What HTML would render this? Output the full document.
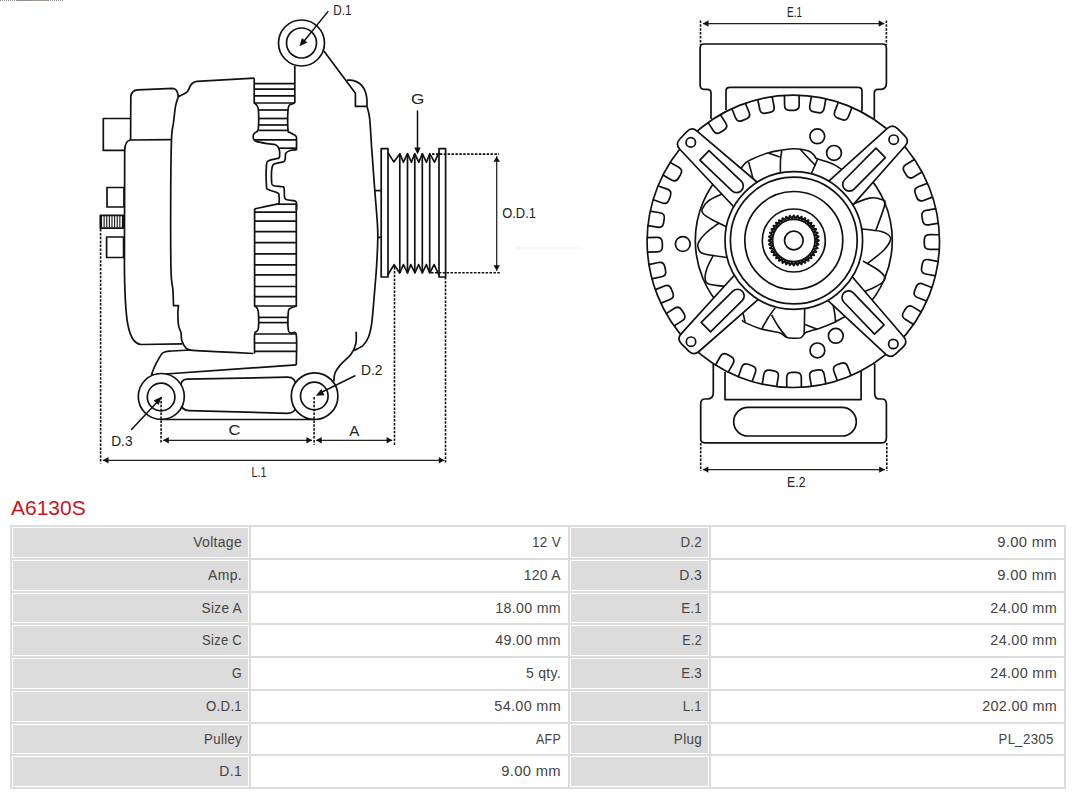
<!DOCTYPE html>
<html><head><meta charset="utf-8"><style>
html,body{margin:0;padding:0;background:#fff;width:1080px;height:795px;overflow:hidden;position:relative}
svg{position:absolute;left:0;top:0}
.b{position:absolute;background:#dcdcdc}
.g{position:absolute;background:#dcdcdc}
.t{position:absolute;text-align:right;font-family:"Liberation Sans",sans-serif;font-size:14px;color:#444;letter-spacing:0.3px;white-space:nowrap}
.title{position:absolute;left:11px;top:494.5px;font-family:"Liberation Sans",sans-serif;font-size:21px;color:#c8161e;line-height:26px}
.topline{position:absolute;left:0;top:0;width:64px;height:1px;background:repeating-linear-gradient(90deg,#8a8a8a 0 1px,#fff 1px 2px)}
.topmid{position:absolute;left:16px;top:0;width:32px;height:1px;background:linear-gradient(90deg,#9a9088,#8a8a94,#a89a88,#9a9aa0)}
</style></head><body>
<div class="topline"></div><div class="topmid"></div>
<svg width="1080" height="495" viewBox="0 0 1080 495">
<g fill="none" stroke="#111" stroke-width="1.7" stroke-linejoin="round" stroke-linecap="butt">
<circle cx="301.5" cy="43" r="23" fill="#fff"/>
<circle cx="301.5" cy="43" r="15" />
<line x1="328.3" y1="11.1" x2="302.5" y2="43" stroke-width="1.5"/>
<path d="M299.5,46.3 L301.9,37.9 L307.3,42.4 Z" fill="#111" stroke="none"/>
<line x1="294.8" y1="65.8" x2="294.8" y2="103" />
<path d="M323.9,51.1 L355.4,93.3 L355.4,106.4 L367,106.4" />
<path d="M346.9,80.2 L350,80.2 Q365.5,81.5 367,100 L367,106.4" />
<path d="M367.00,106.40 C367.43,108.35 368.82,111.12 369.60,118.10 C370.38,125.08 370.83,136.22 371.70,148.30 C372.57,160.38 373.88,178.52 374.80,190.60 C375.72,202.68 376.70,213.00 377.20,220.80 C377.70,228.60 377.90,229.87 377.80,237.40 C377.70,244.93 377.20,256.20 376.60,266.00 C376.00,275.80 375.02,286.63 374.20,296.20 C373.38,305.77 372.65,316.60 371.70,323.40 C370.75,330.20 369.95,333.32 368.50,337.00 C367.05,340.68 365.42,343.25 363.00,345.50 C360.58,347.75 355.50,349.67 354.00,350.50" />
<path d="M356.20,331.70 C356.13,333.72 356.67,340.03 355.80,343.80 C354.93,347.57 353.57,350.78 351.00,354.30 C348.43,357.82 343.07,361.78 340.40,364.90 C337.73,368.02 336.10,370.23 335.00,373.00 C333.90,375.77 334.00,380.08 333.80,381.50" />
<line x1="374.8" y1="190.6" x2="381.2" y2="190.6" />
<line x1="377.8" y1="237.4" x2="381.2" y2="237.4" />
<path d="M254.20,78.20 C254.20,82.33 254.20,98.87 254.20,103.00 C254.58,103.33 255.80,103.83 256.50,105.00 C257.20,106.17 258.08,106.17 258.40,110.00 C258.72,113.83 258.63,124.42 258.40,128.00 C258.17,131.58 257.77,130.50 257.00,131.50 C256.23,132.50 254.38,132.82 253.80,134.00 C253.22,135.18 253.08,137.37 253.50,138.60 C253.92,139.83 253.95,140.55 256.30,141.40 C258.65,142.25 264.38,143.13 267.60,143.70 C270.82,144.27 273.70,143.95 275.60,144.80 C277.50,145.65 278.35,146.82 279.00,148.80 C279.65,150.78 279.70,155.10 279.50,156.70 C279.30,158.30 279.58,157.73 277.80,158.40 C276.02,159.07 270.68,159.60 268.80,160.70 C266.92,161.80 266.88,160.77 266.50,165.00 C266.12,169.23 266.22,182.02 266.50,186.10 C266.78,190.18 266.32,188.37 268.20,189.50 C270.08,190.63 276.00,191.82 277.80,192.90 C279.60,193.98 278.80,194.30 279.00,196.00 C279.20,197.70 279.38,201.73 279.00,203.10 C278.62,204.47 280.77,203.25 276.70,204.20 C272.63,205.15 258.28,208.03 254.60,208.80" />
<line x1="254.2" y1="83.6" x2="294.8" y2="83.6" />
<line x1="254.2" y1="89.2" x2="294.8" y2="89.2" />
<line x1="254.2" y1="95.8" x2="294.8" y2="95.8" />
<line x1="254.2" y1="103" x2="294.8" y2="103" />
<path d="M294.80,103.00 C293.92,103.33 290.63,103.83 289.50,105.00 C288.37,106.17 288.25,105.82 288.00,110.00 C287.75,114.18 287.67,126.35 288.00,130.10 C288.33,133.85 288.67,131.47 290.00,132.50 C291.33,133.53 294.92,134.88 296.00,136.30 C297.08,137.72 296.42,138.73 296.50,141.00 C296.58,143.27 296.50,148.42 296.50,149.90" />
<line x1="258.4" y1="110" x2="288" y2="110" />
<line x1="258.4" y1="118.5" x2="288" y2="118.5" />
<line x1="258.4" y1="125" x2="288" y2="125" />
<line x1="258.4" y1="130.4" x2="288" y2="130.4" />
<line x1="254.6" y1="139.9" x2="296.5" y2="139.9" />
<line x1="279" y1="148.2" x2="296.5" y2="148.2" />
<path d="M296.50,149.90 C295.47,150.00 292.08,149.93 290.30,150.50 C288.52,151.07 286.65,151.88 285.80,153.30 C284.95,154.72 285.58,157.58 285.20,159.00 C284.82,160.42 285.10,161.05 283.50,161.80 C281.90,162.55 277.48,162.65 275.60,163.50 C273.72,164.35 272.87,163.88 272.20,166.90 C271.53,169.92 271.42,178.48 271.60,181.60 C271.78,184.72 271.50,184.75 273.30,185.60 C275.10,186.45 280.60,186.23 282.40,186.70 C284.20,187.17 283.73,186.60 284.10,188.40 C284.47,190.20 284.13,195.62 284.60,197.50 C285.07,199.38 285.20,199.13 286.90,199.70 C288.60,200.27 293.20,200.33 294.80,200.90 C296.40,201.47 296.22,201.58 296.50,203.10 C296.78,204.62 296.50,208.85 296.50,210.00" />
<line x1="276.7" y1="204.2" x2="296.5" y2="204.2" />
<path d="M254.60,208.80 C254.60,225.00 254.60,289.80 254.60,306.00 C255.00,306.33 256.37,306.83 257.00,308.00 C257.63,309.17 258.17,309.67 258.40,313.00 C258.63,316.33 258.72,324.92 258.40,328.00 C258.08,331.08 257.13,330.42 256.50,331.50 C255.87,332.58 254.92,330.83 254.60,334.50 C254.28,338.17 254.60,350.33 254.60,353.50" />
<path d="M296.30,204.20 C296.30,221.17 296.30,289.03 296.30,306.00 C295.25,306.42 291.33,307.50 290.00,308.50 C288.67,309.50 288.58,308.42 288.30,312.00 C288.02,315.58 287.85,326.50 288.30,330.00 C288.75,333.50 289.67,332.17 291.00,333.00 C292.33,333.83 295.42,329.67 296.30,335.00 C297.18,340.33 296.30,360.00 296.30,365.00" />
<line x1="254.6" y1="212.2" x2="296.3" y2="212.2" />
<line x1="254.6" y1="221.1" x2="296.3" y2="221.1" />
<line x1="254.6" y1="231.6" x2="296.3" y2="231.6" />
<line x1="254.6" y1="242.7" x2="296.3" y2="242.7" />
<line x1="254.6" y1="253.9" x2="296.3" y2="253.9" />
<line x1="254.6" y1="264.8" x2="296.3" y2="264.8" />
<line x1="254.6" y1="274.8" x2="296.3" y2="274.8" />
<line x1="254.6" y1="286.5" x2="296.3" y2="286.5" />
<line x1="254.6" y1="296.6" x2="296.3" y2="296.6" />
<line x1="254.6" y1="306" x2="296.3" y2="306" />
<line x1="258.4" y1="317.4" x2="288.3" y2="317.4" />
<line x1="258.4" y1="322.6" x2="288.3" y2="322.6" />
<line x1="254.6" y1="334" x2="296.3" y2="334" />
<line x1="254.6" y1="343" x2="296.3" y2="343" />
<line x1="254.6" y1="351.3" x2="296.3" y2="351.3" />
<path d="M130.6,140 L130.8,97 Q131.3,90.2 138,89.9 L172.5,88.4 Q176.4,88.6 177.6,93 L178.3,96.8" />
<path d="M178.30,96.80 C177.85,98.30 176.40,101.52 175.60,105.80 C174.80,110.08 174.18,116.87 173.50,122.50 C172.82,128.13 171.97,126.68 171.50,139.60 C171.03,152.52 170.78,178.27 170.70,200.00 C170.62,221.73 170.63,255.00 171.00,270.00 C171.37,285.00 172.48,284.05 172.90,290.00 C173.32,295.95 173.40,303.08 173.50,305.70 C174.33,305.70 177.67,305.70 178.50,305.70 C178.40,306.85 177.90,309.35 177.90,312.60 C177.90,315.85 177.98,321.83 178.50,325.20 C179.02,328.57 180.47,330.28 181.00,332.80 C181.53,335.32 180.97,337.90 181.70,340.30 C182.43,342.70 183.93,345.57 185.40,347.20 C186.87,348.83 185.57,349.37 190.50,350.10 C195.43,350.83 204.50,351.03 215.00,351.60 C225.50,352.17 247.08,353.18 253.50,353.50" />
<path d="M178.3,96.8 L185.3,93.3 Q188,92 189.5,87.5 Q191.5,82 197,81.3 L254.2,78.2" />
<path d="M130.6,118.5 L103.3,118.5 L103.3,150.4 L124.7,150.4" />
<path d="M171.5,139.6 L130.6,140 Q124.9,140.5 124.7,150.4 L124.4,265 C124.8,318 127.5,343.5 141,344.5 L182.3,343.8" />
<rect x="107" y="187.5" width="17" height="19.5" rx="0" />
<rect x="106.6" y="237" width="17" height="20.5" rx="0" />
<rect x="100.3" y="215.4" width="23" height="12.7" rx="0" fill="#fff"/>
<line x1="101.5" y1="216" x2="101.5" y2="227.5" stroke-width="1.1"/>
<line x1="104.12" y1="216" x2="104.12" y2="227.5" stroke-width="1.1"/>
<line x1="106.74" y1="216" x2="106.74" y2="227.5" stroke-width="1.1"/>
<line x1="109.36" y1="216" x2="109.36" y2="227.5" stroke-width="1.1"/>
<line x1="111.98" y1="216" x2="111.98" y2="227.5" stroke-width="1.1"/>
<line x1="114.6" y1="216" x2="114.6" y2="227.5" stroke-width="1.1"/>
<line x1="117.22" y1="216" x2="117.22" y2="227.5" stroke-width="1.1"/>
<line x1="119.84" y1="216" x2="119.84" y2="227.5" stroke-width="1.1"/>
<line x1="122.46000000000001" y1="216" x2="122.46000000000001" y2="227.5" stroke-width="1.1"/>
<line x1="100.6" y1="229" x2="100.6" y2="463.5" stroke-dasharray="2.5 1.4" stroke-width="1.6"/>
<path d="M151.50,375.00 C151.92,373.83 152.95,370.43 154.00,368.00 C155.05,365.57 156.33,362.92 157.80,360.40 C159.27,357.88 160.50,354.47 162.80,352.90 C165.10,351.33 166.98,351.47 171.60,351.00 C176.22,350.53 187.35,350.25 190.50,350.10" />
<line x1="151.5" y1="375" x2="296.3" y2="364.9" />
<path d="M187,379.2 L287,377.2 Q296,377 296,386 L296,404.5 Q296,413.6 287,413.3 L189,410.6 Q180.5,410.3 180.5,401 L180.5,388 Q180.5,379.4 187,379.2 Z" />
<circle cx="161.3" cy="396.5" r="23" fill="#fff"/>
<circle cx="161.1" cy="397" r="13.8" />
<circle cx="314.6" cy="396.2" r="23.3" fill="#fff"/>
<circle cx="314.3" cy="396" r="13.8" />
<line x1="161.3" y1="419.5" x2="314.6" y2="419.5" />
<line x1="161.1" y1="397" x2="161.1" y2="443.8" stroke-dasharray="2.5 1.4" stroke-width="1.6"/>
<line x1="314.1" y1="397" x2="314.1" y2="444.8" stroke-dasharray="2.5 1.4" stroke-width="1.6"/>
<line x1="394.5" y1="267" x2="394.5" y2="445.2" stroke-dasharray="2.5 1.4" stroke-width="1.6"/>
<line x1="445.5" y1="277" x2="445.5" y2="462.5" stroke-dasharray="2.5 1.4" stroke-width="1.6"/>
<line x1="163.2" y1="440.3" x2="312" y2="440.3" stroke-width="1.25" stroke="#222"/>
<path d="M312.0,440.3 L306.4,443.5 L306.4,437.1 Z" fill="#111" stroke="none"/>
<path d="M163.2,440.3 L168.8,437.1 L168.8,443.5 Z" fill="#111" stroke="none"/>
<line x1="316.1" y1="440.3" x2="392.2" y2="440.3" stroke-width="1.25" stroke="#222"/>
<path d="M392.2,440.3 L386.6,443.5 L386.6,437.1 Z" fill="#111" stroke="none"/>
<path d="M316.1,440.3 L321.7,437.1 L321.7,443.5 Z" fill="#111" stroke="none"/>
<line x1="102.9" y1="460.3" x2="444.4" y2="460.3" stroke-width="1.25" stroke="#222"/>
<path d="M444.4,460.3 L438.8,463.5 L438.8,457.1 Z" fill="#111" stroke="none"/>
<path d="M102.9,460.3 L108.5,457.1 L108.5,463.5 Z" fill="#111" stroke="none"/>
<line x1="131.1" y1="430" x2="160" y2="399" stroke-width="1.5"/>
<path d="M161.5,396.8 L158.7,405.1 L153.5,400.4 Z" fill="#111" stroke="none"/>
<line x1="355.5" y1="375.5" x2="318" y2="394" stroke-width="1.5"/>
<path d="M315.8,395.8 L321.3,389.0 L324.5,395.3 Z" fill="#111" stroke="none"/>
<rect x="381.2" y="148.6" width="6.8" height="128.4" rx="0" />
<rect x="439" y="148.6" width="6.6" height="128.4" rx="0" />
<path d="M387.9,152.6 L393.8,161.9 L399.9,153.7 L403.4,162.2 L407.5,153.7 L411.4,162.2 L414.7,153.7 L418.8,162.2 L422.3,153.7 L426.4,162.2 L429.7,153.7 L434.5,162.2 L439,152.6" />
<path d="M387.9,274.8 L394.1,264.6 L399.7,273 L403.4,264.6 L407.5,273 L410.8,264.6 L414.9,273 L418.6,264.6 L422.3,273 L426.4,264.6 L429.7,273 L434.1,264.6 L439,275" />
<line x1="399.8" y1="153.7" x2="399.8" y2="273" />
<line x1="407.5" y1="153.7" x2="407.5" y2="273" />
<line x1="414.8" y1="153.7" x2="414.8" y2="273" />
<line x1="422.3" y1="153.7" x2="422.3" y2="273" />
<line x1="429.7" y1="153.7" x2="429.7" y2="273" />
<line x1="417.5" y1="110.4" x2="417.5" y2="150" stroke-width="1.5"/>
<path d="M417.5,154.4 L414.3,147.4 L420.7,147.4 Z" fill="#111" stroke="none"/>
<line x1="432" y1="154.1" x2="499" y2="154.1" stroke-dasharray="2.5 1.4" stroke-width="1.6"/>
<line x1="431" y1="272.8" x2="500" y2="272.8" stroke-dasharray="2.5 1.4" stroke-width="1.6"/>
<line x1="496.7" y1="156.2" x2="496.7" y2="270.8" stroke-width="1.25" stroke="#222"/>
<path d="M496.7,270.8 L493.5,265.2 L499.9,265.2 Z" fill="#111" stroke="none"/>
<path d="M496.7,156.2 L499.9,161.8 L493.5,161.8 Z" fill="#111" stroke="none"/>
<line x1="515" y1="248" x2="581" y2="248" stroke="#e5e0d8" stroke-width="1" stroke-dasharray="1 1"/>
<path d="M711,119 L711,93 Q711,89.3 707,89.3 L704,89.3 Q700.1,89.3 700.1,85 L700.1,48 Q700.1,44 704,44 L882.5,44 Q886.4,44 886.4,48 L886.4,83 Q886.4,89.3 881,89.3 L878,89.3 Q874.3,89.3 874.3,93 L874.3,119" />
<path d="M726,110 L726,91 Q726,87.4 730,87.4 L858,87.4 Q862,87.4 862,91 L862,111" />
<path d="M713.3,364 L713.3,393 Q713.3,399 707,399 L705,399 Q700.7,399 700.7,404 L700.7,439 Q700.7,442.8 705,442.8 L882,442.8 Q886.4,442.8 886.4,438 L886.4,404 Q886.4,399 882,399 L879,399 Q874.7,399 874.7,393 L874.7,364" />
<path d="M725,372 L725,399.6 L861.1,399.6 L861.1,371" />
<rect x="733.7" y="407.4" width="122.6" height="28.6" rx="14.3" />
<line x1="700.5" y1="20.4" x2="700.5" y2="45" stroke-dasharray="2.5 1.4" stroke-width="1.6"/>
<line x1="886.4" y1="20.4" x2="886.4" y2="45" stroke-dasharray="2.5 1.4" stroke-width="1.6"/>
<line x1="702.9" y1="23.5" x2="884.3" y2="23.5" stroke-width="1.25" stroke="#222"/>
<path d="M884.3,23.5 L878.7,26.7 L878.7,20.3 Z" fill="#111" stroke="none"/>
<path d="M702.9,23.5 L708.5,20.3 L708.5,26.7 Z" fill="#111" stroke="none"/>
<line x1="700.7" y1="443" x2="700.7" y2="471" stroke-dasharray="2.5 1.4" stroke-width="1.6"/>
<line x1="886.8" y1="443" x2="886.8" y2="471" stroke-dasharray="2.5 1.4" stroke-width="1.6"/>
<line x1="702.8" y1="469.6" x2="884.8" y2="469.6" stroke-width="1.25" stroke="#222"/>
<path d="M884.8,469.6 L879.2,472.8 L879.2,466.4 Z" fill="#111" stroke="none"/>
<path d="M702.8,469.6 L708.4,466.4 L708.4,472.8 Z" fill="#111" stroke="none"/>
<circle cx="793.3" cy="241.3" r="146.2" fill="#fff"/>
<path d="M707.80,122.11 L713.38,130.77 Q716.20,135.14 720.57,132.32 L724.10,130.05 Q728.47,127.23 725.66,122.86 L720.08,114.20"/>
<path d="M731.65,108.20 L735.51,117.75 Q737.46,122.57 742.28,120.63 L746.17,119.05 Q750.99,117.10 749.05,112.28 L745.19,102.73"/>
<path d="M757.68,99.01 L759.68,109.11 Q760.69,114.21 765.80,113.20 L769.92,112.39 Q775.02,111.38 774.01,106.28 L772.01,96.17"/>
<path d="M784.47,94.88 L784.57,105.18 Q784.63,110.38 789.83,110.33 L794.03,110.29 Q799.23,110.23 799.17,105.03 L799.07,94.73"/>
<path d="M811.55,95.76 L809.76,105.90 Q808.86,111.02 813.98,111.93 L818.12,112.65 Q823.24,113.56 824.14,108.44 L825.93,98.29"/>
<path d="M838.50,101.76 L834.84,111.38 Q832.99,116.25 837.86,118.09 L841.78,119.58 Q846.64,121.43 848.49,116.57 L852.15,106.94"/>
<path d="M914.83,159.16 L906.02,164.50 Q901.57,167.19 904.26,171.64 L906.44,175.23 Q909.13,179.68 913.58,176.99 L922.39,171.65"/>
<path d="M927.97,183.16 L918.32,186.76 Q913.45,188.59 915.27,193.46 L916.74,197.39 Q918.56,202.26 923.43,200.44 L933.08,196.83"/>
<path d="M936.31,208.67 L926.16,210.46 Q921.04,211.36 921.95,216.48 L922.67,220.62 Q923.58,225.74 928.70,224.84 L938.84,223.05"/>
<path d="M939.84,234.77 L929.54,234.71 Q924.34,234.69 924.31,239.89 L924.29,244.09 Q924.26,249.29 929.46,249.31 L939.76,249.37"/>
<path d="M938.57,261.58 L928.46,259.65 Q923.35,258.68 922.37,263.78 L921.59,267.91 Q920.61,273.02 925.72,273.99 L935.84,275.92"/>
<path d="M932.44,287.71 L922.85,283.97 Q918.00,282.08 916.11,286.93 L914.59,290.84 Q912.70,295.69 917.54,297.58 L927.14,301.32"/>
<path d="M921.66,312.29 L912.90,306.87 Q908.48,304.13 905.74,308.55 L903.53,312.12 Q900.79,316.54 905.21,319.28 L913.96,324.70"/>
<path d="M851.21,376.07 L847.62,366.41 Q845.81,361.54 840.93,363.35 L836.99,364.82 Q832.12,366.63 833.93,371.50 L837.52,381.16"/>
<path d="M825.93,384.31 L824.14,374.16 Q823.24,369.04 818.12,369.95 L813.98,370.67 Q808.86,371.58 809.76,376.70 L811.55,386.84"/>
<path d="M801.37,387.76 L801.31,377.46 Q801.29,372.26 796.09,372.29 L791.89,372.31 Q786.69,372.34 786.71,377.54 L786.77,387.84"/>
<path d="M776.57,387.03 L778.26,376.86 Q779.11,371.73 773.98,370.88 L769.83,370.20 Q764.70,369.35 763.85,374.48 L762.17,384.64"/>
<path d="M752.01,382.05 L755.40,372.32 Q757.11,367.41 752.20,365.70 L748.24,364.32 Q743.32,362.61 741.61,367.52 L738.23,377.25"/>
<path d="M727.97,372.63 L733.01,363.65 Q735.56,359.11 731.02,356.57 L727.36,354.51 Q722.82,351.97 720.28,356.50 L715.24,365.49"/>
<path d="M673.67,326.17 L682.35,320.64 Q686.74,317.84 683.94,313.46 L681.69,309.92 Q678.89,305.53 674.51,308.32 L665.82,313.86"/>
<path d="M660.42,303.41 L669.95,299.52 Q674.77,297.56 672.80,292.74 L671.22,288.85 Q669.25,284.04 664.44,286.00 L654.90,289.89"/>
<path d="M651.52,278.90 L661.59,276.76 Q666.68,275.68 665.60,270.59 L664.73,266.48 Q663.64,261.40 658.56,262.48 L648.48,264.62"/>
<path d="M647.02,252.18 L657.32,251.93 Q662.52,251.80 662.39,246.60 L662.29,242.40 Q662.16,237.20 656.96,237.33 L646.67,237.58"/>
<path d="M647.46,225.59 L657.63,227.20 Q662.77,228.02 663.58,222.88 L664.24,218.73 Q665.05,213.60 659.92,212.78 L649.75,211.17"/>
<path d="M652.69,199.52 L662.41,202.95 Q667.31,204.67 669.04,199.77 L670.44,195.81 Q672.16,190.90 667.26,189.17 L657.54,185.75"/>
<path d="M662.54,174.83 L671.48,179.95 Q675.99,182.53 678.58,178.02 L680.67,174.37 Q683.25,169.86 678.74,167.28 L669.80,162.16"/>
<circle cx="817.3" cy="136.3" r="7.4" />
<circle cx="834" cy="152.9" r="7.4" />
<circle cx="835.8" cy="335.8" r="7.4" />
<circle cx="817.4" cy="350.4" r="7.4" />
<circle cx="682.8" cy="244" r="7.4" />
<path d="M722.95,308.92 A98.5,98.5 0 0 1 722.95,172.08" />
<path d="M864.65,172.08 A98.5,98.5 0 0 1 864.65,308.92" />
<path d="M722.00,194.00 C719.68,195.18 711.43,198.52 708.10,201.10 C704.77,203.68 702.77,207.35 702.00,209.50 C701.23,211.65 701.73,212.25 703.50,214.00 C705.27,215.75 708.52,217.75 712.60,220.00 C716.68,222.25 725.43,226.25 728.00,227.50" stroke-width="1.6"/>
<path d="M719.00,223.00 C716.83,224.67 709.33,229.92 706.00,233.00 C702.67,236.08 700.33,239.17 699.00,241.50 C697.67,243.83 697.33,245.00 698.00,247.00 C698.67,249.00 698.17,251.75 703.00,253.50 C707.83,255.25 723.00,256.83 727.00,257.50" stroke-width="1.6"/>
<path d="M713.50,255.00 C712.50,257.00 708.90,263.25 707.50,267.00 C706.10,270.75 704.93,274.67 705.10,277.50 C705.27,280.33 704.85,282.50 708.50,284.00 C712.15,285.50 723.92,286.08 727.00,286.50" stroke-width="1.6"/>
<path d="M852.00,204.50 C854.95,203.43 864.78,198.92 869.70,198.10 C874.62,197.28 878.98,198.53 881.50,199.60 C884.02,200.67 885.72,199.43 884.80,204.50 C883.88,209.57 877.47,225.75 876.00,230.00" stroke-width="1.6"/>
<path d="M860.00,228.80 C863.38,229.22 875.55,230.27 880.30,231.30 C885.05,232.33 886.80,233.55 888.50,235.00 C890.20,236.45 891.25,237.50 890.50,240.00 C889.75,242.50 887.92,246.00 884.00,250.00 C880.08,254.00 869.83,261.67 867.00,264.00" stroke-width="1.6"/>
<path d="M863.00,261.00 C865.50,262.50 874.42,267.40 878.00,270.00 C881.58,272.60 883.67,274.60 884.50,276.60 C885.33,278.60 884.92,280.10 883.00,282.00 C881.08,283.90 876.50,286.25 873.00,288.00 C869.50,289.75 863.83,291.75 862.00,292.50" stroke-width="1.6"/>
<path d="M741.00,168.50 C741.67,167.67 743.30,165.02 745.00,163.50 C746.70,161.98 747.28,161.18 751.20,159.40 C755.12,157.62 763.58,154.32 768.50,152.80 C773.42,151.28 776.62,150.97 780.70,150.30 C784.78,149.63 789.60,148.97 793.00,148.80 C796.40,148.63 798.38,148.88 801.10,149.30 C803.82,149.72 807.27,150.45 809.30,151.30 C811.33,152.15 812.15,153.18 813.30,154.40 C814.45,155.62 815.72,157.90 816.20,158.60 C818.78,159.42 827.40,161.68 831.70,163.50 C836.00,165.32 840.28,168.50 842.00,169.50" stroke-width="1.6"/>
<path d="M748.70,162.20 C749.08,163.67 750.15,167.78 751.00,171.00 C751.85,174.22 753.33,179.75 753.80,181.50" stroke-width="1.6"/>
<path d="M768.50,153.30 C770.37,153.90 777.83,156.30 779.70,156.90" stroke-width="1.6"/>
<path d="M781.80,150.30 C781.58,151.92 780.73,156.05 780.50,160.00 C780.27,163.95 780.42,171.67 780.40,174.00" stroke-width="1.6"/>
<path d="M800.10,149.30 C802.68,152.05 813.02,163.05 815.60,165.80" stroke-width="1.6"/>
<path d="M817.60,159.20 C816.50,161.75 812.10,171.95 811.00,174.50" stroke-width="1.6"/>
<path d="M742.00,320.00 C742.52,320.43 742.03,321.15 745.10,322.60 C748.17,324.05 754.97,327.08 760.40,328.70 C765.83,330.32 774.10,331.42 777.70,332.30 C781.30,333.18 780.47,333.12 782.00,334.00 C783.53,334.88 784.90,336.90 786.90,337.60 C788.90,338.30 791.63,338.20 794.00,338.20 C796.37,338.20 799.23,338.50 801.10,337.60 C802.97,336.70 803.50,333.95 805.20,332.80 C806.90,331.65 809.10,331.38 811.30,330.70 C813.50,330.02 815.00,329.88 818.40,328.70 C821.80,327.52 827.10,325.72 831.70,323.60 C836.30,321.48 843.62,317.27 846.00,316.00" stroke-width="1.6"/>
<path d="M743.10,313.40 C743.43,314.83 744.77,320.57 745.10,322.00" stroke-width="1.6"/>
<path d="M775.00,308.00 C773.83,309.67 770.18,314.55 768.00,318.00 C765.82,321.45 762.92,326.92 761.90,328.70" stroke-width="1.6"/>
<path d="M771.60,315.00 C772.67,316.83 775.45,322.23 778.00,326.00 C780.55,329.77 785.42,335.67 786.90,337.60" stroke-width="1.6"/>
<path d="M804.70,309.00 C804.62,313.25 804.28,330.25 804.20,334.50" stroke-width="1.6"/>
<path d="M805.20,324.60 C807.23,325.37 815.37,328.43 817.40,329.20" stroke-width="1.6"/>
<path d="M832.20,301.00 C832.58,302.83 833.92,308.40 834.50,312.00 C835.08,315.60 835.50,320.83 835.70,322.60" stroke-width="1.6"/>
<path d="M737.01,210.22 L679.81,149.22 Q675.01,144.10 679.84,139.03 L686.90,131.62 Q691.73,126.55 697.07,131.09 L760.79,185.26 Z" fill="#fff"/>
<circle cx="690.80" cy="142.40" r="4.7" />
<path d="M699.86,160.21 L732.04,190.87 A6.65,6.65 0 0 0 741.22,181.23 L709.03,150.58 Z"/>
<path d="M825.20,184.33 L887.33,128.35 Q892.54,123.65 897.51,128.58 L904.79,135.79 Q909.76,140.71 905.11,145.97 L849.69,208.60 Z" fill="#fff"/>
<circle cx="893.70" cy="139.70" r="4.7" />
<path d="M875.94,148.17 L844.65,179.74 A6.65,6.65 0 0 0 854.10,189.11 L885.39,157.53 Z"/>
<path d="M761.71,296.28 L698.89,351.49 Q693.63,356.12 688.72,351.13 L681.53,343.84 Q676.62,338.85 681.33,333.66 L737.52,271.71 Z" fill="#fff"/>
<circle cx="691.00" cy="341.70" r="4.7" />
<path d="M710.53,331.81 L742.20,300.63 A6.65,6.65 0 0 0 732.87,291.15 L701.20,322.33 Z"/>
<path d="M849.20,273.25 L903.66,336.72 Q908.23,342.04 903.18,346.89 L895.80,353.98 Q890.75,358.84 885.62,354.06 L824.34,297.14 Z" fill="#fff"/>
<circle cx="893.30" cy="344.00" r="4.7" />
<path d="M884.12,324.85 L853.31,292.81 A6.65,6.65 0 0 0 843.72,302.02 L874.53,334.07 Z"/>
<circle cx="793.8" cy="240.5" r="68.8" fill="#fff"/>
<circle cx="793.8" cy="240.5" r="63.4" />
<circle cx="793.8" cy="240.5" r="49" />
<circle cx="793.8" cy="240.5" r="31.5" />
<path d="M818.80,240.50 L815.73,242.23 L818.49,244.41 L815.19,245.64 L817.58,248.23 L814.13,248.92 L816.08,251.85 L812.56,251.99 L814.03,255.19 L810.53,254.79 L811.48,258.18 L808.09,257.23 L808.49,260.73 L805.29,259.26 L805.15,262.78 L802.22,260.83 L801.53,264.28 L798.94,261.89 L797.71,265.19 L795.53,262.43 L793.80,265.50 L792.07,262.43 L789.89,265.19 L788.66,261.89 L786.07,264.28 L785.38,260.83 L782.45,262.78 L782.31,259.26 L779.11,260.73 L779.51,257.23 L776.12,258.18 L777.07,254.79 L773.57,255.19 L775.04,251.99 L771.52,251.85 L773.47,248.92 L770.02,248.23 L772.41,245.64 L769.11,244.41 L771.87,242.23 L768.80,240.50 L771.87,238.77 L769.11,236.59 L772.41,235.36 L770.02,232.77 L773.47,232.08 L771.52,229.15 L775.04,229.01 L773.57,225.81 L777.07,226.21 L776.12,222.82 L779.51,223.77 L779.11,220.27 L782.31,221.74 L782.45,218.22 L785.38,220.17 L786.07,216.72 L788.66,219.11 L789.89,215.81 L792.07,218.57 L793.80,215.50 L795.53,218.57 L797.71,215.81 L798.94,219.11 L801.53,216.72 L802.22,220.17 L805.15,218.22 L805.29,221.74 L808.49,220.27 L808.09,223.77 L811.48,222.82 L810.53,226.21 L814.03,225.81 L812.56,229.01 L816.08,229.15 L814.13,232.08 L817.58,232.77 L815.19,235.36 L818.49,236.59 L815.73,238.77 Z" stroke-width="2.1"/>
<circle cx="793.8" cy="240.5" r="21.2" stroke-width="1.8"/>
<circle cx="793.8" cy="240.5" r="9.3" />
</g>
<g font-family="Liberation Sans, sans-serif" font-size="14.5" fill="#222">
<text transform="matrix(0.8150 0 0 0.9995 333.15 15.00)" x="0" y="0">D.1</text>
<text transform="matrix(1.1883 0 0 1.0199 410.94 104.45)" x="0" y="0">G</text>
<text transform="matrix(0.8902 0 0 1.0005 502.25 218.45)" x="0" y="0">O.D.1</text>
<text transform="matrix(0.9597 0 0 0.9951 360.89 374.70)" x="0" y="0">D.2</text>
<text transform="matrix(0.9453 0 0 0.9713 111.20 445.86)" x="0" y="0">D.3</text>
<text transform="matrix(1.1494 0 0 0.9908 228.57 435.36)" x="0" y="0">C</text>
<text transform="matrix(1.0449 0 0 1.0495 349.20 435.60)" x="0" y="0">A</text>
<text transform="matrix(0.7444 0 0 1.0195 251.54 477.00)" x="0" y="0">L.1</text>
<text transform="matrix(0.6846 0 0 0.9895 787.01 16.80)" x="0" y="0">E.1</text>
<text transform="matrix(0.8457 0 0 0.9754 787.12 486.80)" x="0" y="0">E.2</text>
</g>
</svg>
<div class="title">A6130S</div>
<div class="b" style="left:10px;top:525px;width:1056px;height:2px"></div><div class="b" style="left:10px;top:787px;width:1056px;height:2px"></div><div class="b" style="left:10px;top:525px;width:2px;height:264px"></div><div class="b" style="left:1064px;top:525px;width:2px;height:264px"></div><div class="b" style="left:249px;top:525px;width:2px;height:264px"></div><div class="b" style="left:568px;top:525px;width:2px;height:264px"></div><div class="b" style="left:709px;top:525px;width:2px;height:264px"></div><div class="b" style="left:10px;top:557.75px;width:1056px;height:2px"></div><div class="b" style="left:10px;top:590.50px;width:1056px;height:2px"></div><div class="b" style="left:10px;top:623.25px;width:1056px;height:2px"></div><div class="b" style="left:10px;top:656.00px;width:1056px;height:2px"></div><div class="b" style="left:10px;top:688.75px;width:1056px;height:2px"></div><div class="b" style="left:10px;top:721.50px;width:1056px;height:2px"></div><div class="b" style="left:10px;top:754.25px;width:1056px;height:2px"></div>
<div class="g" style="left:13px;top:528.00px;width:235px;height:28.75px"></div><div class="t" style="left:12px;top:527.00px;width:230px;height:30.75px;line-height:30.75px;transform:scaleX(1.0000);transform-origin:100% 50%">Voltage</div><div class="t" style="left:251px;top:527.00px;width:310px;height:30.75px;line-height:30.75px;transform:scaleX(0.9655);transform-origin:100% 50%">12 V</div><div class="g" style="left:571px;top:528.00px;width:137px;height:28.75px"></div><div class="t" style="left:570px;top:527.00px;width:132px;height:30.75px;line-height:30.75px;transform:scaleX(0.9524);transform-origin:100% 50%">D.2</div><div class="t" style="left:711px;top:527.00px;width:346px;height:30.75px;line-height:30.75px;transform:scaleX(1.0556);transform-origin:100% 50%">9.00 mm</div><div class="g" style="left:13px;top:560.75px;width:235px;height:28.75px"></div><div class="t" style="left:12px;top:559.75px;width:230px;height:30.75px;line-height:30.75px;transform:scaleX(1.0000);transform-origin:100% 50%">Amp.</div><div class="t" style="left:251px;top:559.75px;width:310px;height:30.75px;line-height:30.75px;transform:scaleX(1.0000);transform-origin:100% 50%">120 A</div><div class="g" style="left:571px;top:560.75px;width:137px;height:28.75px"></div><div class="t" style="left:570px;top:559.75px;width:132px;height:30.75px;line-height:30.75px;transform:scaleX(1.0000);transform-origin:100% 50%">D.3</div><div class="t" style="left:711px;top:559.75px;width:346px;height:30.75px;line-height:30.75px;transform:scaleX(1.0556);transform-origin:100% 50%">9.00 mm</div><div class="g" style="left:13px;top:593.50px;width:235px;height:28.75px"></div><div class="t" style="left:12px;top:592.50px;width:230px;height:30.75px;line-height:30.75px;transform:scaleX(0.9750);transform-origin:100% 50%">Size A</div><div class="t" style="left:251px;top:592.50px;width:310px;height:30.75px;line-height:30.75px;transform:scaleX(1.0159);transform-origin:100% 50%">18.00 mm</div><div class="g" style="left:571px;top:593.50px;width:137px;height:28.75px"></div><div class="t" style="left:570px;top:592.50px;width:132px;height:30.75px;line-height:30.75px;transform:scaleX(0.9500);transform-origin:100% 50%">E.1</div><div class="t" style="left:711px;top:592.50px;width:346px;height:30.75px;line-height:30.75px;transform:scaleX(1.0317);transform-origin:100% 50%">24.00 mm</div><div class="g" style="left:13px;top:626.25px;width:235px;height:28.75px"></div><div class="t" style="left:12px;top:625.25px;width:230px;height:30.75px;line-height:30.75px;transform:scaleX(0.9268);transform-origin:100% 50%">Size C</div><div class="t" style="left:251px;top:625.25px;width:310px;height:30.75px;line-height:30.75px;transform:scaleX(1.0156);transform-origin:100% 50%">49.00 mm</div><div class="g" style="left:571px;top:626.25px;width:137px;height:28.75px"></div><div class="t" style="left:570px;top:625.25px;width:132px;height:30.75px;line-height:30.75px;transform:scaleX(0.9000);transform-origin:100% 50%">E.2</div><div class="t" style="left:711px;top:625.25px;width:346px;height:30.75px;line-height:30.75px;transform:scaleX(1.0317);transform-origin:100% 50%">24.00 mm</div><div class="g" style="left:13px;top:659.00px;width:235px;height:28.75px"></div><div class="t" style="left:12px;top:658.00px;width:230px;height:30.75px;line-height:30.75px;transform:scaleX(0.8889);transform-origin:100% 50%">G</div><div class="t" style="left:251px;top:658.00px;width:310px;height:30.75px;line-height:30.75px;transform:scaleX(1.0000);transform-origin:100% 50%">5 qty.</div><div class="g" style="left:571px;top:659.00px;width:137px;height:28.75px"></div><div class="t" style="left:570px;top:658.00px;width:132px;height:30.75px;line-height:30.75px;transform:scaleX(0.9500);transform-origin:100% 50%">E.3</div><div class="t" style="left:711px;top:658.00px;width:346px;height:30.75px;line-height:30.75px;transform:scaleX(1.0317);transform-origin:100% 50%">24.00 mm</div><div class="g" style="left:13px;top:691.75px;width:235px;height:28.75px"></div><div class="t" style="left:12px;top:690.75px;width:230px;height:30.75px;line-height:30.75px;transform:scaleX(0.9444);transform-origin:100% 50%">O.D.1</div><div class="t" style="left:251px;top:690.75px;width:310px;height:30.75px;line-height:30.75px;transform:scaleX(1.0317);transform-origin:100% 50%">54.00 mm</div><div class="g" style="left:571px;top:691.75px;width:137px;height:28.75px"></div><div class="t" style="left:570px;top:690.75px;width:132px;height:30.75px;line-height:30.75px;transform:scaleX(0.9474);transform-origin:100% 50%">L.1</div><div class="t" style="left:711px;top:690.75px;width:346px;height:30.75px;line-height:30.75px;transform:scaleX(1.0282);transform-origin:100% 50%">202.00 mm</div><div class="g" style="left:13px;top:724.50px;width:235px;height:28.75px"></div><div class="t" style="left:12px;top:723.50px;width:230px;height:30.75px;line-height:30.75px;transform:scaleX(0.9487);transform-origin:100% 50%">Pulley</div><div class="t" style="left:251px;top:723.50px;width:310px;height:30.75px;line-height:30.75px;transform:scaleX(0.8889);transform-origin:100% 50%">AFP</div><div class="g" style="left:571px;top:724.50px;width:137px;height:28.75px"></div><div class="t" style="left:570px;top:723.50px;width:132px;height:30.75px;line-height:30.75px;transform:scaleX(0.9630);transform-origin:100% 50%">Plug</div><div class="t" style="left:711px;top:723.50px;width:342.6px;height:30.75px;line-height:30.75px;transform:scaleX(0.9464);transform-origin:100% 50%">PL_2305</div><div class="g" style="left:13px;top:757.25px;width:235px;height:28.75px"></div><div class="t" style="left:12px;top:756.25px;width:230px;height:30.75px;line-height:30.75px;transform:scaleX(1.0000);transform-origin:100% 50%">D.1</div><div class="t" style="left:251px;top:756.25px;width:310px;height:30.75px;line-height:30.75px;transform:scaleX(1.0556);transform-origin:100% 50%">9.00 mm</div><div class="g" style="left:571px;top:757.25px;width:137px;height:28.75px"></div>
</body></html>
